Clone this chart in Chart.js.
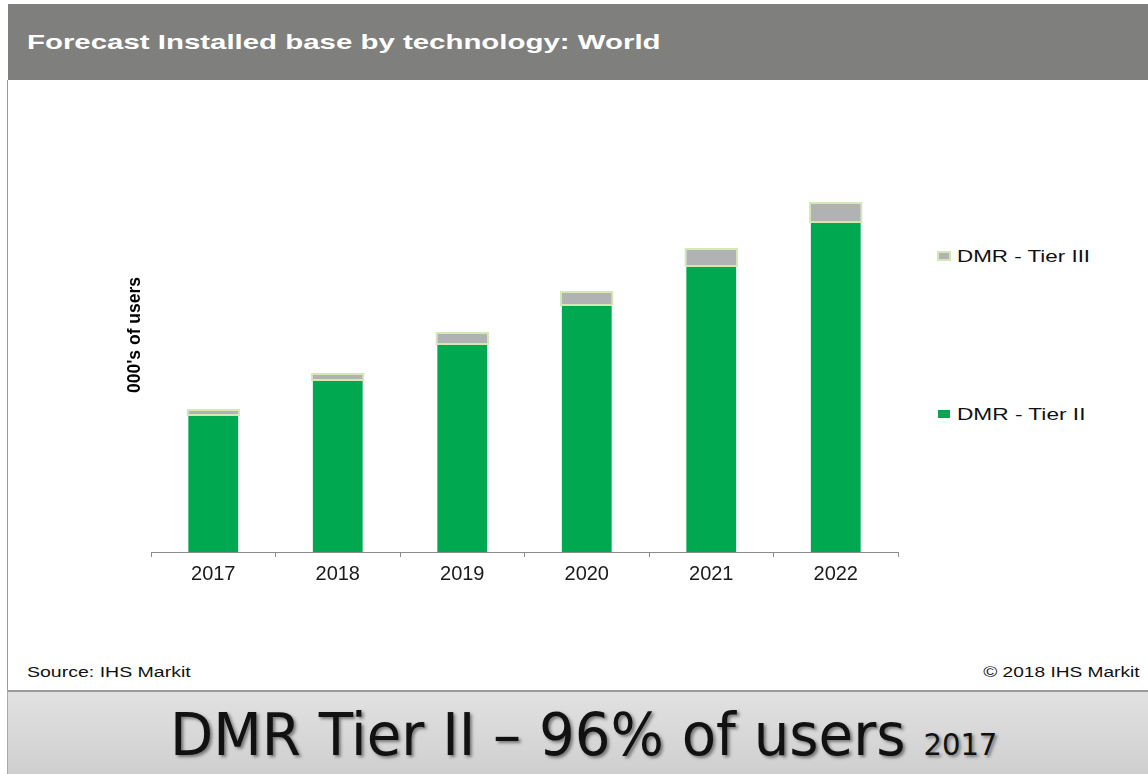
<!DOCTYPE html>
<html>
<head>
<meta charset="utf-8">
<script src="https://cdn.jsdelivr.net/npm/chart.js@4.4.1/dist/chart.umd.min.js"></script>
<style>
  html, body { margin: 0; padding: 0; background: #fff; }
  body { width: 1148px; height: 774px; position: relative; overflow: hidden; font-family: "Liberation Sans", Arial, sans-serif; }
  #head { position: absolute; left: 8px; top: 4px; width: 1140px; height: 76px; background: #7f807e; }
  #panel { position: absolute; left: 7px; top: 80px; width: 1141px; height: 611px; border-left: 1px solid #9a9a9a; }
  #foot { position: absolute; left: 7px; top: 690px; width: 1141px; height: 84px; border-top: 2px solid #9a9a9a; border-left: 1px solid #aaa;
          background: linear-gradient(#e1e1e1, #cfcfcf); }
  .txt { position: absolute; white-space: nowrap; display: inline-block; transform-origin: 0 0; }
  #title { left: 27px; top: 31px; color: #fff; font-weight: bold; font-size: 21px; line-height: 21px; }
  #src { left: 27px; top: 665px; color: #111; font-size: 14px; line-height: 14px; }
  #copy { right: 8px; top: 665px; color: #111; font-size: 14px; line-height: 14px; transform-origin: 100% 0; }
  #caption { left: 170px; top: 705px; color: #111; font-family: "DejaVu Sans Condensed", "DejaVu Sans", sans-serif; font-size: 58px; line-height: 60px;
             text-shadow: 2px 2px 3px rgba(0,0,0,0.45); }
  #caption small { font-size: 30px; }
  #legend .lbl { position: absolute; left: 957px; font-size: 17px; line-height: 17px; color: #111; white-space: nowrap; transform-origin: 0 0; }
  #legend .box { position: absolute; box-sizing: border-box; }
  canvas { position: absolute; left: 0; top: 0; z-index: 1; }
</style>
</head>
<body>
<div id="head"></div>
<div id="panel"></div>
<div id="foot"></div>
<div class="txt" id="title">Forecast Installed base by technology: World</div>
<div class="txt" id="src">Source: IHS Markit</div>
<div class="txt" id="copy">© 2018 IHS Markit</div>
<div class="txt" id="caption">DMR Tier II – 96% of users <small>2017</small></div>
<div id="legend"></div>
<canvas id="chart" width="1148" height="774"></canvas>
<script>
// datos (miles de usuarios, escala aproximada)
const years = ["2017", "2018", "2019", "2020", "2021", "2022"];
const tierII = [1360, 1710, 2070, 2460, 2850, 3290];
const tierIII = [70, 80, 130, 150, 190, 210];

const green = "#00a84f";
const grey = "#b1b2b4";
const lightGreen = "#d4e8b6";

const chart = new Chart(document.getElementById("chart"), {
  type: "bar",
  data: {
    labels: years,
    datasets: [
      {
        label: "DMR - Tier II",
        data: tierII,
        backgroundColor: green,
        borderWidth: 0,
        barPercentage: 0.4,
        categoryPercentage: 1
      },
      {
        label: "DMR - Tier III",
        data: tierIII,
        backgroundColor: grey,
        borderColor: lightGreen,
        borderWidth: 2,
        borderSkipped: false,
        barPercentage: 0.43,
        categoryPercentage: 1
      }
    ]
  },
  options: {
    responsive: false,
    animation: false,
    layout: { padding: { left: 111, right: 250, top: 118, bottom: 182 } },
    plugins: { legend: { display: false }, tooltip: { enabled: false } },
    scales: {
      x: {
        stacked: true,
        afterFit: (s) => { s.height = 40; },
        grid: { display: true, drawOnChartArea: false, drawTicks: true, tickLength: 5, color: "#8c8c8c", offset: true },
        border: { display: true, color: "#8c8c8c", width: 1 },
        ticks: { color: "#1a1a1a", padding: 5, font: { family: "'Liberation Sans', Arial, sans-serif", size: 20 } }
      },
      y: {
        stacked: true,
        min: 0,
        max: 4340,
        afterFit: (s) => { s.width = 40; },
        grid: { display: false },
        border: { display: false },
        ticks: { display: false },
        title: {
          display: true,
          text: "000's of users",
          color: "#000",
          padding: { top: 14, bottom: 0 },
          font: { family: "'Liberation Sans', Arial, sans-serif", size: 17.5, weight: "bold" }
        }
      }
    }
  }
});

// leyenda a la derecha
const legend = document.getElementById("legend");
const legendPos = { "DMR - Tier III": { top: 248, w: 133, box: [937, 251, 14, 10] },
                    "DMR - Tier II": { top: 406, w: 128, box: [938, 410, 12, 8] } };
chart.data.datasets.forEach((ds) => {
  const p = legendPos[ds.label];
  const box = document.createElement("div");
  box.className = "box";
  box.style.left = p.box[0] + "px";
  box.style.top = p.box[1] + "px";
  box.style.width = p.box[2] + "px";
  box.style.height = p.box[3] + "px";
  box.style.background = ds.backgroundColor;
  if (ds.borderWidth) box.style.border = ds.borderWidth + "px solid " + ds.borderColor;
  legend.appendChild(box);
  const lbl = document.createElement("div");
  lbl.className = "lbl";
  lbl.style.top = p.top + "px";
  lbl.textContent = ds.label;
  legend.appendChild(lbl);
  lbl.style.transform = "scaleX(" + (p.w / lbl.offsetWidth) + ")";
});

// ajustar ancho de los textos al original
const fit = (id, w) => {
  const el = document.getElementById(id);
  el.style.transform = "scaleX(" + (w / el.offsetWidth) + ")";
};
fit("title", 633);
fit("src", 163);
fit("copy", 157);
fit("caption", 827);
</script>
</body>
</html>
